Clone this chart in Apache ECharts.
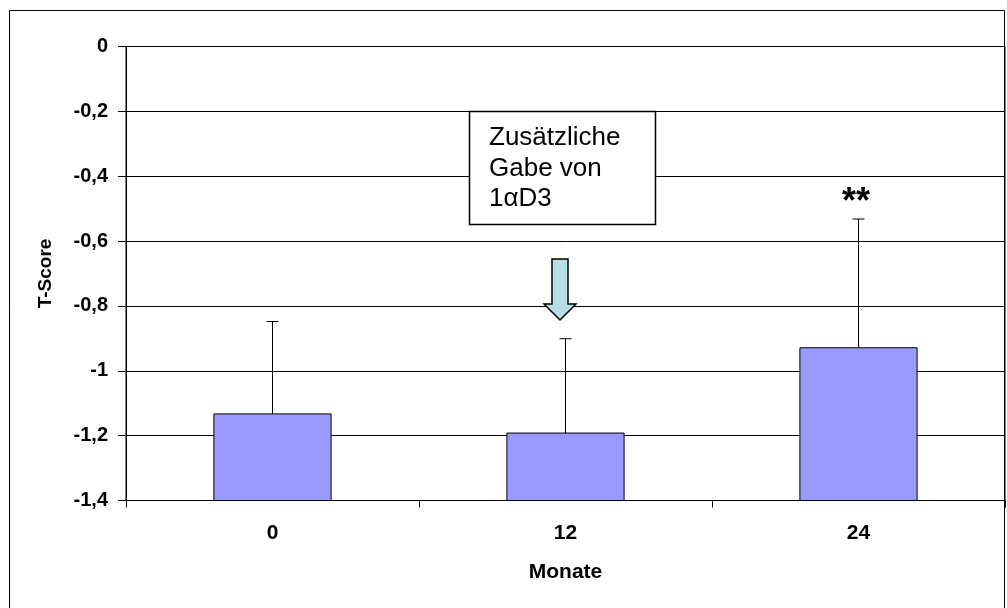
<!DOCTYPE html>
<html>
<head>
<meta charset="utf-8">
<script src="https://cdn.jsdelivr.net/npm/echarts@6/dist/echarts.min.js"></script>
<style>
html,body{margin:0;padding:0;background:#fff;}
#c{width:1007px;height:608px;}
</style>
</head>
<body>
<div id="c"></div>
<script>
// ---- data ----
const categories = ['0', '12', '24'];
const means = [-1.133, -1.192, -0.929];
const upperErr = [-0.848, -0.901, -0.532];
const yMin = -1.4;
const yMax = 0;
const yStep = 0.2;
const boxLines = ['Zusätzliche', 'Gabe von', '1αD3'];
const starText = '**';

const FONT = '"Liberation Sans", Arial, sans-serif';

function fmt(v) {
  const n = parseFloat(Number(v).toFixed(1));
  return (n === 0 ? '0' : String(n)).replace('.', ',');
}

function renderBar(params, api) {
  const x = api.value(0), v = api.value(1);
  const top = api.coord([x, v]);
  const base = api.coord([x, yMin]);
  const w = api.size([1, 0])[0] * 0.4;
  return {
    type: 'rect',
    shape: { x: top[0] - w / 2, y: top[1], width: w, height: base[1] - top[1] },
    style: { fill: '#9999ff', stroke: '#000', lineWidth: 1 }
  };
}

function renderErr(params, api) {
  const x = api.value(0), v = api.value(1), e = api.value(2);
  const p0 = api.coord([x, v]);
  const p1 = api.coord([x, e]);
  const cap = 6;
  return {
    type: 'group',
    children: [
      { type: 'line', shape: { x1: p0[0], y1: p0[1], x2: p1[0], y2: p1[1] }, style: { stroke: '#000', lineWidth: 1 } },
      { type: 'line', shape: { x1: p1[0] - cap, y1: p1[1], x2: p1[0] + cap, y2: p1[1] }, style: { stroke: '#000', lineWidth: 1 } }
    ]
  };
}

const chart = echarts.init(document.getElementById('c'), null, { renderer: 'canvas' });
chart.setOption({
  animation: false,
  backgroundColor: '#fff',
  textStyle: { fontFamily: FONT },
  grid: {
    left: 126, right: 2, top: 46.5, bottom: 107.5,
    show: true, borderColor: '#000', borderWidth: 1, backgroundColor: 'transparent'
  },
  xAxis: {
    type: 'category',
    data: categories,
    boundaryGap: true,
    axisLine: { onZero: false, lineStyle: { color: '#000', width: 1 } },
    axisTick: { show: true, alignWithLabel: false, length: 7, lineStyle: { color: '#000' } },
    axisLabel: { fontSize: 21, fontWeight: 'bold', color: '#000', margin: 22, fontFamily: FONT },
    name: 'Monate',
    nameLocation: 'middle',
    nameGap: 61,
    nameTextStyle: { fontSize: 21, fontWeight: 'bold', color: '#000', fontFamily: FONT }
  },
  yAxis: {
    type: 'value',
    min: yMin, max: yMax, interval: yStep,
    axisLine: { show: true, lineStyle: { color: '#000', width: 1 } },
    axisTick: { show: true, length: 8, lineStyle: { color: '#000' } },
    splitLine: { show: true, lineStyle: { color: '#000', width: 1 } },
    axisLabel: { formatter: fmt, fontSize: 20, fontWeight: 'bold', color: '#000', margin: 18, fontFamily: FONT },
    name: 'T-Score',
    nameLocation: 'middle',
    nameRotate: 90,
    nameGap: 71,
    nameTextStyle: { fontSize: 19, fontWeight: 'bold', color: '#000', fontFamily: FONT }
  },
  series: [
    {
      type: 'custom',
      renderItem: renderBar,
      data: means.map((v, i) => [i, v]),
      encode: { x: 0, y: 1 },
      z: 3
    },
    {
      type: 'custom',
      renderItem: renderErr,
      data: means.map((v, i) => [i, v, upperErr[i]]),
      encode: { x: 0, y: [1, 2] },
      z: 4
    }
  ],
  graphic: [
    {
      type: 'rect', silent: true, z: 100,
      shape: { x: 9.5, y: 10.5, width: 995, height: 640 },
      style: { fill: 'none', stroke: '#000', lineWidth: 1 }
    },
    {
      type: 'rect', z: 100,
      shape: { x: 469.5, y: 111.5, width: 186, height: 113 },
      style: { fill: '#fff', stroke: '#000', lineWidth: 1.5 }
    },
    {
      type: 'text', z: 101,
      x: 489, y: 123,
      style: {
        text: boxLines.join('\n'),
        font: '26px ' + FONT,
        fill: '#000',
        lineHeight: 30.5,
        verticalAlign: 'top',
        align: 'left'
      }
    },
    {
      type: 'polygon', z: 100,
      shape: { points: [[552, 259], [568, 259], [568, 304], [576, 304], [560, 320], [544, 304], [552, 304]] },
      style: { fill: '#b7dfe3', stroke: '#000', lineWidth: 1.5 }
    },
    {
      type: 'text', z: 101,
      x: 856, y: 203,
      style: {
        text: starText,
        font: 'bold 36px ' + FONT,
        fill: '#000',
        align: 'center',
        verticalAlign: 'middle'
      }
    }
  ]
});
</script>
</body>
</html>
